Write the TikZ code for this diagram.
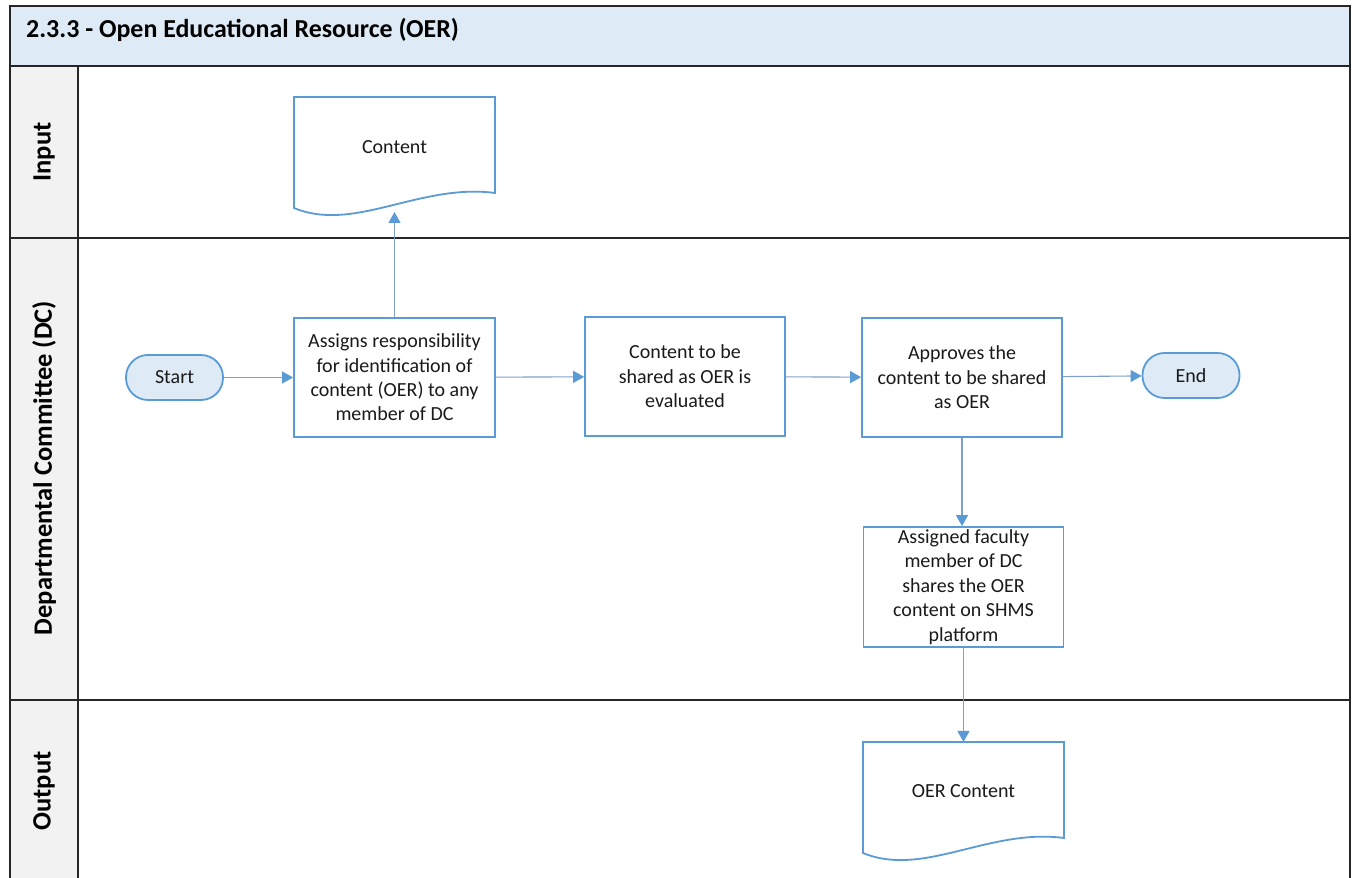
\documentclass[tikz,border=0pt]{standalone}
\usepackage{fontspec}
\setmainfont{Carlito}
\usetikzlibrary{arrows.meta}

\definecolor{frameline}{HTML}{262626}
\definecolor{headfill}{HTML}{DEEAF6}
\definecolor{lanefill}{HTML}{F2F2F2}
\definecolor{boxblue}{HTML}{5B9BD5}
\definecolor{linkblue}{HTML}{7FA0C8}
\definecolor{ink}{HTML}{1A1A1A}

\tikzset{
  frame/.style={draw=frameline,line width=1.8pt},
  bodyfont/.style={font=\fontsize{20}{24.4}\selectfont,text=ink},
  stepbox/.style={bodyfont,draw=boxblue,line width=1.8pt,fill=white,
    minimum width=201,minimum height=119,align=center,inner sep=0pt},
  terminal/.style={bodyfont,draw=boxblue,line width=1.8pt,fill=headfill,
    minimum width=97,minimum height=45,rounded corners=22pt,inner sep=0pt},
  doctext/.style={bodyfont,align=center,inner sep=0pt},
  docline/.style={draw=boxblue,line width=1.8pt,fill=white},
  lanelabel/.style={font=\fontsize{26.5}{31}\selectfont\bfseries,text=black,rotate=90,inner sep=0pt},
  titletext/.style={font=\fontsize{25.9}{30}\selectfont\bfseries,text=black,inner sep=0pt,anchor=west},
  flow/.style={draw=linkblue,line width=1.1pt,-{Triangle[length=11pt,width=12pt,color=boxblue]}},
  docshape/.pic={
    \path[docline] (0,0) -- (201,0) -- (201,-96)
      .. controls (126,-86) and (60,-136) .. (0,-111) -- cycle;
  }
}

\begin{document}
\begin{tikzpicture}[x=1pt,y=1pt]
\useasboundingbox (0,0) rectangle (1353,878);

% pool background: header band and lane label column
\fill[headfill] (10,812) rectangle (1350,872);
\fill[lanefill] (10,0) rectangle (78,812);

% pool frame and lane separators
\draw[frame] (10,0) -- (10,872) -- (1350,872) -- (1350,0);
\draw[frame] (10,812) -- (1350,812);
\draw[frame] (78,0) -- (78,812);
\draw[frame] (10,640) -- (1350,640);
\draw[frame] (10,178) -- (1350,178);

% title and lane names
\node[titletext] (title) at (26,848) {2.3.3 - Open Educational Resource (OER)};
\node[lanelabel] (laneinput) at (44,726) {Input};
\node[lanelabel] (lanedc) at (44,410) {Departmental Committee (DC)};
\node[lanelabel] (laneoutput) at (44,87) {Output};

% input and output documents
\pic at (294,781) {docshape};
\node[doctext] (content) at (394.5,731) {Content};
\coordinate (contentbot) at (394.5,666);

\pic at (863,136) {docshape};
\node[doctext] (oer) at (963.5,87) {OER Content};
\coordinate (oertop) at (963.5,136);

% process steps
\node[terminal] (start) at (174.5,500.5) {Start};
\node[stepbox] (assign) at (394.5,500.5)
  {Assigns responsibility\\for identification of\\content (OER) to any\\member of DC};
\node[stepbox,minimum width=200] (eval) at (685,501.5)
  {Content to be\\shared as OER is\\evaluated};
\node[stepbox,minimum width=200] (approve) at (962,500.5)
  {Approves the\\content to be shared\\as OER};
\node[terminal] (end) at (1191,502.5) {End};
\node[stepbox,minimum width=200,minimum height=120] (fac) at (963.5,291)
  {Assigned faculty\\member of DC\\shares the OER\\content on SHMS\\platform};

% connectors
\draw[flow] (start) -- (assign);
\draw[flow] (assign) -- (eval);
\draw[flow] (eval) -- (approve);
\draw[flow] (approve) -- (end);
\draw[flow] (assign.north) -- (contentbot);
\draw[flow] (approve.south) -- (approve.south |- fac.north);
\draw[flow] (fac.south) -- (oertop);
\end{tikzpicture}
\end{document}
